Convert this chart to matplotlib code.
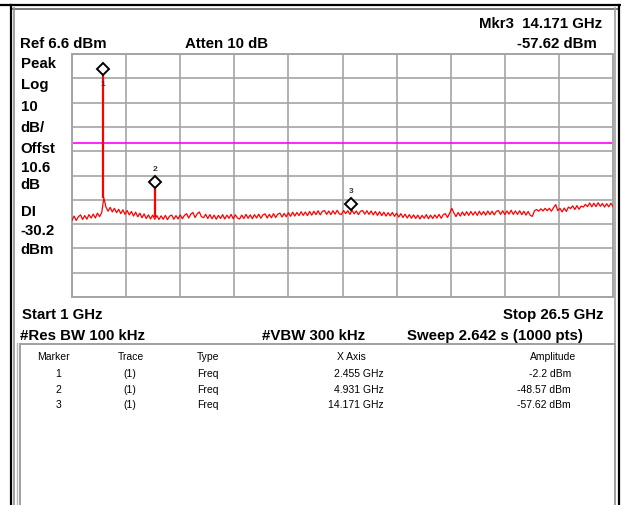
import numpy as np
import matplotlib.pyplot as plt
from matplotlib.lines import Line2D
from matplotlib.patches import Rectangle
from matplotlib.transforms import ScaledTranslation

plt.rcParams['font.family'] = ['Liberation Sans', 'DejaVu Sans']

W, H = 621, 506

# sweep settings
start_ghz = 1.0
stop_ghz = 26.5
ref_dbm = 6.6
db_per_div = 10
display_line_dbm = -30.2

# trace floor, every 0.1 GHz (1.0 ... 26.5 GHz)
trace_dbm = [
    -61.8, -60.1, -61.9, -60.4, -59.6, -61.5, -59.9, -61.4, -59.5, -60.9,
    -59.3, -60.9, -58.9, -60.3, -58.7, -52.6, -56.4, -58.1, -56.5, -58.4,
    -56.9, -58.7, -57.3, -59.1, -57.5, -59.4, -57.8, -59.6, -58.2, -60.1,
    -58.5, -60.4, -58.9, -60.8, -59.2, -61.1, -59.6, -61.3, -59.7, -61.4,
    -59.9, -61.5, -60.0, -61.4, -59.8, -61.6, -60.1, -59.7, -61.4, -59.9,
    -61.3, -59.6, -61.2, -59.8, -59.1, -60.9, -59.3, -58.6, -60.7, -59.2,
    -58.4, -60.3, -60.8, -59.4, -61.1, -59.5, -61.2, -59.7, -61.4, -59.8,
    -61.1, -59.5, -61.3, -59.7, -61.0, -59.4, -61.2, -59.6, -60.9, -61.3,
    -59.7, -61.1, -59.4, -61.0, -59.6, -61.2, -59.5, -60.9, -59.3, -61.0,
    -59.6, -59.2, -60.9, -59.4, -60.8, -59.1, -60.7, -59.3, -58.9, -60.5,
    -59.0, -60.4, -58.7, -60.2, -58.5, -60.1, -58.6, -59.9, -58.3, -59.8,
    -58.4, -59.9, -58.2, -59.7, -58.1, -59.5, -57.9, -59.6, -58.2, -57.8,
    -59.4, -58.0, -59.5, -57.9, -59.3, -57.7, -59.2, -59.4, -57.8, -59.1,
    -57.9, -59.4, -57.7, -59.2, -58.0, -59.5, -58.1, -57.8, -59.3, -57.9,
    -59.4, -58.0, -59.6, -58.2, -59.8, -58.3, -59.9, -58.5, -60.1, -58.7,
    -60.0, -58.6, -60.2, -58.9, -60.5, -59.1, -60.7, -59.3, -60.9, -59.5,
    -61.0, -59.6, -61.1, -59.7, -61.3, -59.8, -61.0, -59.5, -61.2, -59.7,
    -61.1, -59.6, -60.9, -59.4, -61.0, -59.5, -59.1, -60.7, -58.9, -56.9,
    -58.8, -60.3, -58.6, -60.1, -58.4, -59.9, -58.3, -59.8, -58.2, -59.7,
    -58.3, -59.8, -58.1, -59.6, -58.2, -59.7, -58.0, -59.5, -58.1, -59.6,
    -58.2, -57.8, -59.4, -57.9, -59.5, -58.0, -59.3, -57.7, -59.4, -58.0,
    -59.4, -57.9, -59.5, -58.1, -59.7, -58.2, -59.8, -60.2, -57.9, -57.4,
    -58.1, -57.1, -58.0, -56.9, -57.9, -56.9, -58.1, -56.6, -55.4, -57.9,
    -56.9, -58.4, -56.8, -58.2, -56.4, -57.0, -55.9, -57.4, -55.8, -57.3,
    -56.0, -56.4, -55.3, -56.2, -54.7, -56.3, -54.8, -56.2, -54.6, -56.1,
    -54.9, -56.4, -55.0, -56.3, -54.8, -56.2,
]
trace_ghz = np.linspace(start_ghz, stop_ghz, len(trace_dbm))

# spurs (vertical lines from floor to peak)
spur_ghz = [2.455, 4.931]
spur_top_dbm = [-2.2, -48.57]
spur_base_dbm = [-52.6, -60.4]

# marker table
marker_ids = ['1', '2', '3']
marker_ghz = [2.455, 4.931, 14.171]
marker_dbm = [-2.2, -48.57, -57.62]
marker_trace = ['(1)', '(1)', '(1)']
marker_type = ['Freq', 'Freq', 'Freq']
marker_x_text = ['2.455 GHz', '4.931 GHz', '14.171 GHz']
marker_amp_text = ['-2.2 dBm', '-48.57 dBm', '-57.62 dBm']

left_labels = ['Peak', 'Log', '10', 'dB/', 'Offst', '10.6', 'dB', 'DI', '-30.2', 'dBm']


def fx(x):
    return x / W


def fy(y):
    return 1 - y / H


def put(x, y, s, size=10.8, bold=True, ha='left', color='black'):
    fig.text(fx(x), fy(y), s, fontsize=size, ha=ha, va='baseline',
             fontweight='bold' if bold else 'normal', color=color)


def hline(x0, x1, y, color, lw):
    fig.add_artist(Line2D([fx(x0), fx(x1)], [fy(y), fy(y)], color=color,
                          lw=lw, transform=fig.transFigure))


def vline(x, y0, y1, color, lw):
    fig.add_artist(Line2D([fx(x), fx(x)], [fy(y0), fy(y1)], color=color,
                          lw=lw, transform=fig.transFigure))


fig = plt.figure(figsize=(W / 100, H / 100), dpi=100)
fig.patch.set_facecolor('white')

# screen frame
hline(0, W, 6, 'black', 1.6)
hline(11, 619, 9.5, '#606060', 1.2)
vline(11, 6, H, 'black', 1.6)
vline(13.5, 9, H, '#909090', 1.2)
vline(618.5, 6, H, 'black', 1.6)
vline(614.5, 9, H, '#a0a0a0', 1.2)
fig.add_artist(Rectangle((fx(19.5), fy(H + 5)), fx(614.5) - fx(19.5),
                         fy(344.5) - fy(H + 5), fill=False,
                         edgecolor='#a0a0a0', lw=1.4,
                         transform=fig.transFigure))
vline(17, 344, H, '#b8b8b8', 1.0)

# trace window
ax = fig.add_axes([fx(72), fy(298), fx(613) - fx(72), fy(55) - fy(298)])
bottom_dbm = ref_dbm - 10 * db_per_div
ax.set_xlim(start_ghz, stop_ghz)
ax.set_ylim(bottom_dbm, ref_dbm)
ax.set_xticks(np.linspace(start_ghz, stop_ghz, 11))
ax.set_yticks(np.linspace(bottom_dbm, ref_dbm, 11))
ax.tick_params(length=0, labelbottom=False, labelleft=False)
ax.grid(True, color='#a4a4a4', lw=1.2)
ax.set_axisbelow(True)
for sp in ax.spines.values():
    sp.set_color('#a4a4a4')
    sp.set_linewidth(1.4)

ax.axhline(display_line_dbm, color='#ff00ff', lw=1.2, zorder=2)
ax.plot(trace_ghz, trace_dbm, color='#ff0000', lw=0.9, zorder=3)
ax.vlines(spur_ghz, spur_base_dbm, spur_top_dbm, color='#ff0000', lw=1.6,
          zorder=3)

# marker diamonds sit a few pixels above the trace point
lift = ax.transData + ScaledTranslation(0, 6 / 100, fig.dpi_scale_trans)
for mid, f, a in zip(marker_ids, marker_ghz, marker_dbm):
    ax.plot([f], [a], marker='D', ms=6, mfc='white', mec='black', mew=1.4,
            ls='none', zorder=5, transform=lift)
    dy = -8 if a > ref_dbm - 12 else 20
    ax.annotate(mid, (f, a), xytext=(0, dy), textcoords='offset pixels',
                ha='center', va='center', fontsize=6, fontweight='bold',
                color='#303848', zorder=6)

# header text
put(20, 48.3, 'Ref 6.6 dBm')
put(185, 48.3, 'Atten 10 dB')
put(602, 27.7, 'Mkr3  14.171 GHz', ha='right')
put(597, 48.3, '-57.62 dBm', ha='right')

left_base = [67.7, 89.3, 110.7, 131.7, 152.7, 171.7, 189.3, 216, 235, 254.3]
for s, b in zip(left_labels, left_base):
    put(20.5, b, s)

put(21.5, 319, 'Start 1 GHz')
put(603.5, 319, 'Stop 26.5 GHz', ha='right')
put(20.5, 340, '#Res BW 100 kHz')
put(262, 340, '#VBW 300 kHz')
put(407, 340, 'Sweep 2.642 s (1000 pts)')

# marker table
ts = 7.5
put(53, 360, 'Marker', ts, False, 'center')
put(131, 360, 'Trace', ts, False, 'center')
put(197, 360, 'Type', ts, False)
put(351, 360, 'X Axis', ts, False, 'center')
put(553, 360, 'Amplitude', ts, False, 'center')
row_base = [376.7, 392.7, 408.5]
for i, b in enumerate(row_base):
    put(58.5, b, marker_ids[i], ts, False, 'center')
    put(130, b, marker_trace[i], ts, False, 'center')
    put(197, b, marker_type[i], ts, False)
    put(384, b, marker_x_text[i], ts, False, 'right')
    put(571, b, marker_amp_text[i], ts, False, 'right')

fig.savefig('out.png', dpi=100, facecolor='white')
